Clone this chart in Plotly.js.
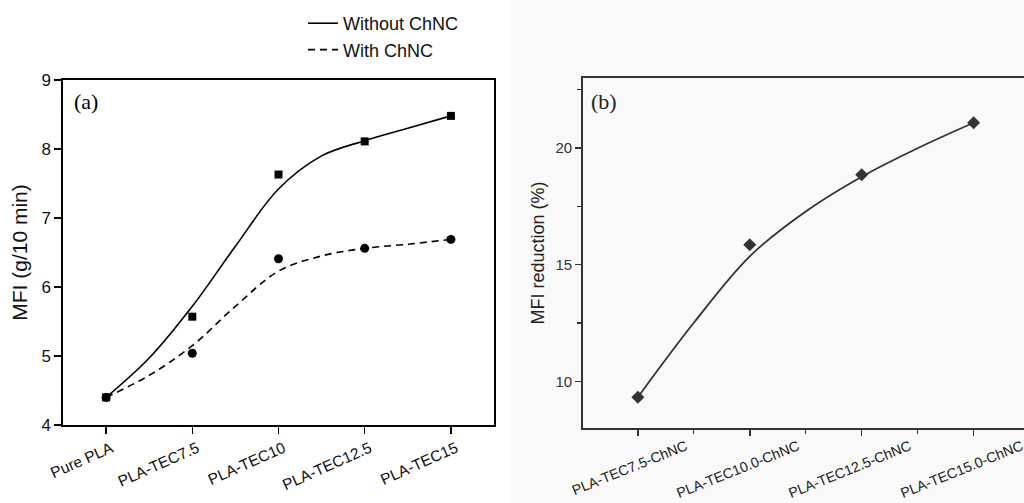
<!DOCTYPE html>
<html><head><meta charset="utf-8">
<script src="https://cdn.plot.ly/plotly-3.0.1.min.js"></script>
<style>html,body{margin:0;padding:0;background:#fff}#chart{width:1024px;height:503px}</style>
</head><body><div id="chart"></div>
<script>
// Panel (a)
const catsA = ["Pure PLA", "PLA-TEC7.5", "PLA-TEC10", "PLA-TEC12.5", "PLA-TEC15"];
const posA = [0, 1, 2, 3, 4];
const withoutChNC = [4.40, 5.57, 7.63, 8.11, 8.48];
const withChNC = [4.40, 5.04, 6.41, 6.56, 6.69];
// fitted curves (at half-category steps)
const fitPosA = [0, 0.5, 1, 1.5, 2, 2.5, 3, 3.5, 4];
const fitWithout = [4.40, 4.97, 5.72, 6.59, 7.42, 7.90, 8.12, 8.30, 8.48];
const fitWith = [4.40, 4.72, 5.15, 5.72, 6.23, 6.45, 6.56, 6.62, 6.69];

// Panel (b)
const catsB = ["PLA-TEC7.5-ChNC", "PLA-TEC10.0-ChNC", "PLA-TEC12.5-ChNC", "PLA-TEC15.0-ChNC"];
const posB = [0, 1, 2, 3];
const mfiReduction = [9.32, 15.85, 18.85, 21.08];
const fitPosB = [0, 0.5, 1, 1.5, 2, 2.5, 3];
const fitReduction = [9.32, 12.51, 15.36, 17.28, 18.77, 19.99, 21.08];

const black = "#000";
const dgray = "#333";

const traces = [
  {x: fitPosA, y: fitWithout, type: "scatter", mode: "lines", name: "Without ChNC",
   line: {color: black, width: 1.6, shape: "spline", smoothing: 1}, xaxis: "x", yaxis: "y"},
  {x: fitPosA, y: fitWith, type: "scatter", mode: "lines", name: "With ChNC",
   line: {color: black, width: 1.6, dash: "7px,5px", shape: "spline", smoothing: 1}, xaxis: "x", yaxis: "y"},
  {x: posA, y: withoutChNC, type: "scatter", mode: "markers", showlegend: false,
   marker: {symbol: "square", size: 8, color: black}, xaxis: "x", yaxis: "y"},
  {x: posA, y: withChNC, type: "scatter", mode: "markers", showlegend: false,
   marker: {symbol: "circle", size: 9, color: black}, xaxis: "x", yaxis: "y"},
  {x: fitPosB, y: fitReduction, type: "scatter", mode: "lines", showlegend: false,
   line: {color: dgray, width: 1.8, shape: "spline", smoothing: 1}, xaxis: "x2", yaxis: "y2"},
  {x: posB, y: mfiReduction, type: "scatter", mode: "markers", showlegend: false,
   marker: {symbol: "diamond", size: 10, color: dgray}, xaxis: "x2", yaxis: "y2"}
];

const fontFam = "Liberation Sans, Arial, sans-serif";

const layout = {
  width: 1024, height: 503,
  margin: {l: 0, r: 0, t: 0, b: 0},
  paper_bgcolor: "#fff", plot_bgcolor: "rgba(0,0,0,0)",
  font: {family: fontFam, color: black},
  showlegend: true,
  legend: {x: 303/1024, y: 1 - 5/503, xanchor: "left", yanchor: "top", bgcolor: "rgba(0,0,0,0)",
           font: {size: 18, family: fontFam, color: "#111"}, itemwidth: 30, tracegroupgap: 0},
  xaxis: {domain: [63/1024, 494/1024], range: [-0.5, 4.5], tickvals: posA, ticktext: catsA,
          tickangle: -24, ticks: "outside", ticklen: 7, tickwidth: 1.5, tickcolor: black, ticklabelshift: 5,
          showline: true, linecolor: black, linewidth: 1.6, mirror: true, showgrid: false, zeroline: false,
          tickfont: {size: 15.5, family: fontFam, color: "#111"}, anchor: "y"},
  yaxis: {domain: [1 - 425/503, 1 - 80/503], range: [4, 9], dtick: 1, tick0: 4,
          ticks: "outside", ticklen: 7, tickwidth: 1.5, tickcolor: black,
          showline: true, linecolor: black, linewidth: 1.6, mirror: true, showgrid: false, zeroline: false,
          tickfont: {size: 17, family: fontFam, color: "#111"}, anchor: "x",
          title: {text: "MFI (g/10 min)", font: {size: 21, family: fontFam, color: "#111"}, standoff: 8}},
  xaxis2: {domain: [583/1024, 1], range: [-0.49, 3.45], tickvals: posB, ticktext: catsB,
          tickangle: -22, ticks: "outside", ticklen: 6, tickwidth: 1.5, tickcolor: dgray,
          ticklabelshift: 48, ticklabelstandoff: -3, ticklabeloverflow: "allow",
          minor: {tickvals: [0.5, 1.5, 2.5], ticks: "outside", ticklen: 4, tickcolor: dgray, tickwidth: 1.2},
          showline: true, linecolor: dgray, linewidth: 1.8, mirror: true, showgrid: false, zeroline: false,
          tickfont: {size: 14.2, family: fontFam, color: "#222"}, anchor: "y2"},
  yaxis2: {domain: [1 - 428/503, 1 - 78/503], range: [8, 23], tickvals: [10, 15, 20],
          ticks: "outside", ticklen: 6, tickwidth: 1.5, tickcolor: dgray,
          minor: {tickvals: [12.5, 17.5, 22.5], ticks: "outside", ticklen: 4, tickcolor: dgray, tickwidth: 1.2},
          showline: true, linecolor: dgray, linewidth: 1.8, mirror: false, showgrid: false, zeroline: false,
          tickfont: {size: 15, family: fontFam, color: "#333"}, anchor: "x2",
          title: {text: "MFI reduction (%)", font: {size: 18, family: fontFam, color: "#222"}, standoff: 6}},
  shapes: [
    {type: "rect", xref: "paper", yref: "paper", x0: 510/1024, x1: 1, y0: 0, y1: 1,
     fillcolor: "#f9f9f9", line: {width: 0}, layer: "below"}
  ],
  annotations: [
    {text: "(a)", xref: "paper", yref: "paper", x: 72/1024, y: 1 - 101/503, xanchor: "left", yanchor: "middle",
     showarrow: false, font: {family: "Liberation Serif, Times New Roman, serif", size: 22, color: black}},
    {text: "(b)", xref: "paper", yref: "paper", x: 589/1024, y: 1 - 101/503, xanchor: "left", yanchor: "middle",
     showarrow: false, font: {family: "Liberation Serif, Times New Roman, serif", size: 22, color: "#222"}}
  ]
};

Plotly.newPlot("chart", traces, layout, {displayModeBar: false, staticPlot: true});
</script></body></html>
